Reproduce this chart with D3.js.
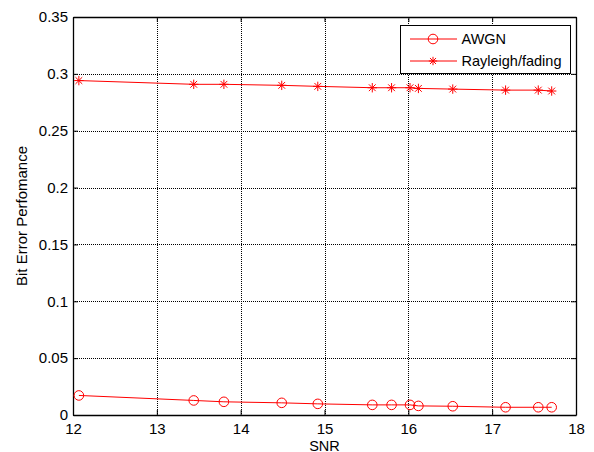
<!DOCTYPE html>
<html><head><meta charset="utf-8">
<script src="https://cdn.jsdelivr.net/npm/d3@7"></script>
<style>body{margin:0;background:#fff;} svg{display:block;} text{font-family:Arial,"Liberation Sans",sans-serif;}</style>
</head><body>
<svg id="c" width="594" height="452"></svg>
<script>
const snr = [12.07, 13.44, 13.80, 14.49, 14.92, 15.57, 15.80, 16.02, 16.12, 16.53, 17.16, 17.55, 17.71];
const awgn = [0.0172, 0.0128, 0.0116, 0.0107, 0.0098, 0.0089, 0.0089, 0.0089, 0.0080, 0.0077, 0.0068, 0.0068, 0.0068];
const rayleigh = [0.2941, 0.2908, 0.2908, 0.2899, 0.2890, 0.2878, 0.2878, 0.2878, 0.2872, 0.2866, 0.2857, 0.2857, 0.2849];
const xTicks = [12, 13, 14, 15, 16, 17, 18];
const yTicks = [0, 0.05, 0.1, 0.15, 0.2, 0.25, 0.3, 0.35];
const seriesNames = ["AWGN", "Rayleigh/fading"];

const svg = d3.select("#c");
const L = 73, R = 576, T = 17, B = 415;
const x = d3.scaleLinear().domain([12, 18]).range([L, R]);
const y = d3.scaleLinear().domain([0, 0.35]).range([B, T]);
const red = "#ff0000";
const FS = 14.5;

// grid
const g = svg.append("g");
xTicks.slice(1, -1).forEach(t => g.append("line").attr("x1", Math.round(x(t))+0.5).attr("x2", Math.round(x(t))+0.5).attr("y1", T).attr("y2", B)
  .attr("stroke", "#000").attr("stroke-width", 1).attr("stroke-dasharray", "1,1"));
yTicks.slice(1, -1).forEach(t => g.append("line").attr("y1", Math.round(y(t))+0.5).attr("y2", Math.round(y(t))+0.5).attr("x1", L).attr("x2", R)
  .attr("stroke", "#000").attr("stroke-width", 1).attr("stroke-dasharray", "1,1"));

// axes
const xa = svg.append("g").attr("transform", `translate(0,${B})`)
  .call(d3.axisBottom(x).tickValues(xTicks).tickSizeInner(-5).tickSizeOuter(0).tickPadding(8).tickFormat(d3.format("d")));
const xt = svg.append("g").attr("transform", `translate(0,${T})`)
  .call(d3.axisTop(x).tickValues(xTicks).tickSizeInner(-5).tickSizeOuter(0).tickFormat(""));
const ya = svg.append("g").attr("transform", `translate(${L},0)`)
  .call(d3.axisLeft(y).tickValues(yTicks).tickSizeInner(-5).tickSizeOuter(0).tickPadding(5).tickFormat(d => d === 0 ? "0" : String(+d.toFixed(2))));
const yr = svg.append("g").attr("transform", `translate(${R},0)`)
  .call(d3.axisRight(y).tickValues(yTicks).tickSizeInner(-5).tickSizeOuter(0).tickFormat(""));
[xa, xt, ya, yr].forEach(a => {
  a.selectAll(".domain").attr("stroke", "#000").attr("stroke-width", 1.3);
  a.selectAll(".tick line").attr("stroke", "#000");
  a.selectAll("text").attr("font-size", 15).attr("fill", "#000").attr("font-family", "Arial, 'Liberation Sans', sans-serif");
});

// axis titles
svg.append("text").attr("x", (L + R) / 2).attr("y", 450.5).attr("text-anchor", "middle").attr("font-size", FS).text("SNR");
svg.append("text").attr("transform", `translate(26.5,${(T + B) / 2}) rotate(-90)`).attr("text-anchor", "middle").attr("font-size", 15).text("Bit Error Perfomance");

// lines
const line = d3.line().x(d => x(d[0])).y(d => y(d[1]));
const d1 = snr.map((s, i) => [s, awgn[i]]);
const d2 = snr.map((s, i) => [s, rayleigh[i]]);
svg.append("path").attr("d", line(d1)).attr("fill", "none").attr("stroke", red).attr("stroke-width", 1);
svg.append("path").attr("d", line(d2)).attr("fill", "none").attr("stroke", red).attr("stroke-width", 1);

function star(sel, cx, cy, r) {
  const gg = sel.append("g").attr("transform", `translate(${cx},${cy})`).attr("stroke", red).attr("stroke-width", 1);
  gg.append("line").attr("x1", -r).attr("x2", r).attr("y1", 0).attr("y2", 0);
  gg.append("line").attr("x1", 0).attr("x2", 0).attr("y1", -r).attr("y2", r);
  const k = r * 0.72;
  gg.append("line").attr("x1", -k).attr("x2", k).attr("y1", -k).attr("y2", k);
  gg.append("line").attr("x1", -k).attr("x2", k).attr("y1", k).attr("y2", -k);
}
svg.append("g").selectAll("circle").data(d1).join("circle")
  .attr("cx", d => x(d[0])).attr("cy", d => y(d[1])).attr("r", 4.8)
  .attr("fill", "none").attr("stroke", red).attr("stroke-width", 1);
const sg = svg.append("g");
d2.forEach(d => star(sg, x(d[0]), y(d[1]), 4.7));

// legend
const lg = svg.append("g");
lg.append("rect").attr("x", 400.5).attr("y", 25.5).attr("width", 170).attr("height", 48).attr("fill", "#fff").attr("stroke", "#000").attr("stroke-width", 1);
const ly = [39, 61];
seriesNames.forEach((n, i) => {
  lg.append("line").attr("x1", 410).attr("x2", 457).attr("y1", ly[i]).attr("y2", ly[i]).attr("stroke", red).attr("stroke-width", 1);
  if (i === 0) lg.append("circle").attr("cx", 433).attr("cy", ly[i]).attr("r", 4.8).attr("fill", "none").attr("stroke", red);
  else star(lg, 433, ly[i], 4.2);
  lg.append("text").attr("x", 461.5).attr("y", ly[i] + 5.2).attr("font-size", FS).text(n);
});
</script>
</body></html>
